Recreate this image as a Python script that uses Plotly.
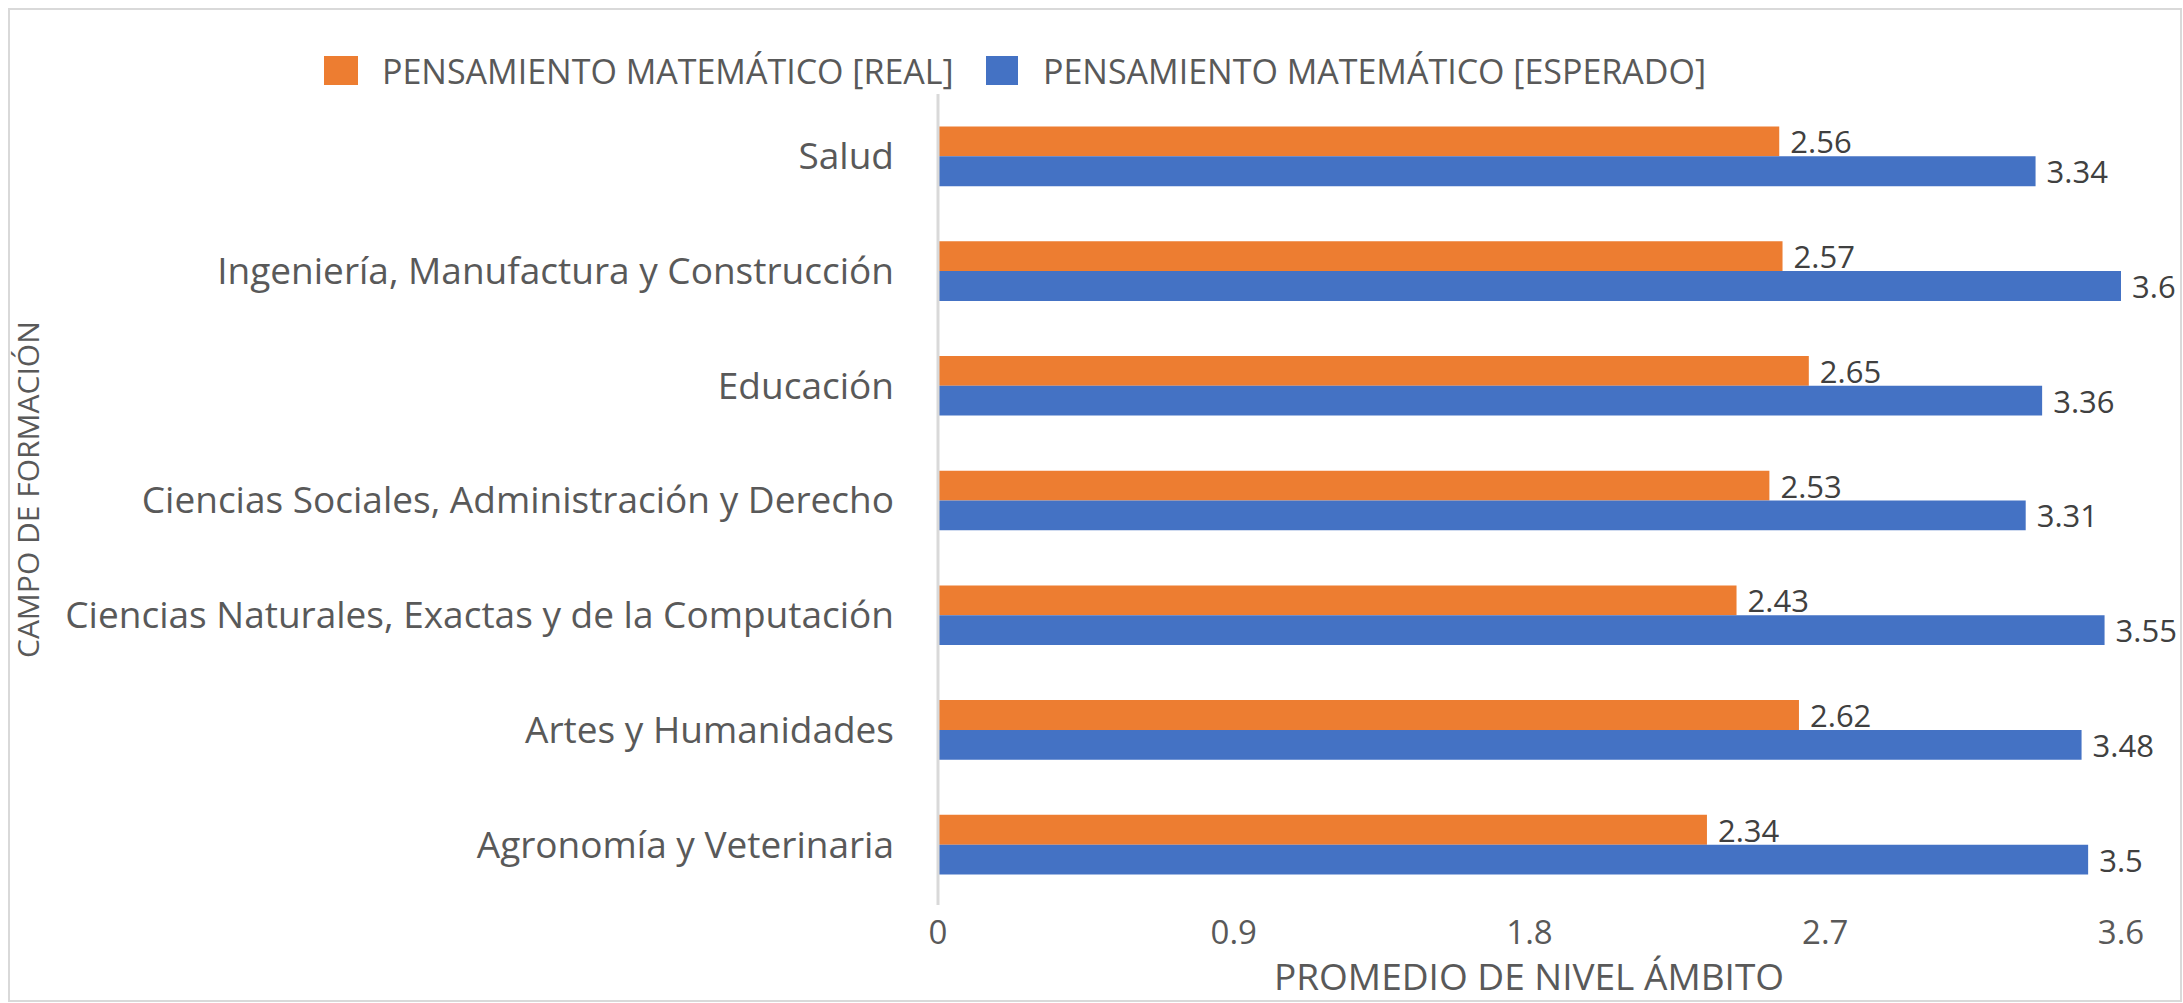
import plotly.graph_objects as go

categorias = [
    "Salud",
    "Ingeniería, Manufactura y Construcción",
    "Educación",
    "Ciencias Sociales, Administración y Derecho",
    "Ciencias Naturales, Exactas y de la Computación",
    "Artes y Humanidades",
    "Agronomía y Veterinaria",
]
real = [2.56, 2.57, 2.65, 2.53, 2.43, 2.62, 2.34]
esperado = [3.34, 3.6, 3.36, 3.31, 3.55, 3.48, 3.5]
x_ticks = [0, 0.9, 1.8, 2.7, 3.6]
x_tick_text = ["0", "0.9", "1.8", "2.7", "3.6"]
series_names = ["PENSAMIENTO MATEMÁTICO [REAL]", "PENSAMIENTO MATEMÁTICO [ESPERADO]"]
series_colors = ["#ED7D31", "#4472C4"]

W, H = 2183, 1003
L, R, T, B = 938, 62, 99, 101
pw = W - L - R
ph = H - T - B
FONT = "Open Sans"
GRAY = "#595959"


def px_x(px):
    return (px - L) / pw


def px_y(py):
    return (T + ph - py) / ph


fig = go.Figure()
for name, vals, col in zip(series_names, [real, esperado], series_colors):
    fig.add_trace(go.Bar(
        y=categorias, x=vals, orientation="h", name=name,
        marker=dict(color=col, line=dict(width=0)),
        text=[f" {v:g}" for v in vals], textposition="outside", cliponaxis=False,
        constraintext="none",
        textfont=dict(family=FONT, size=31, color="#404040"),
        showlegend=False,
    ))

# chart border
fig.add_shape(type="rect", xref="paper", yref="paper",
              x0=px_x(9), x1=px_x(W - 2), y0=px_y(H - 2), y1=px_y(9),
              line=dict(color="#d9d9d9", width=2), fillcolor="rgba(0,0,0,0)", layer="below")

# category axis line (slightly taller than the plot area, as in the reference)
fig.add_shape(type="line", xref="paper", yref="paper",
              x0=0, x1=0, y0=px_y(905), y1=px_y(94),
              line=dict(color="#d9d9d9", width=3))

# custom legend
legend_sq = [(324, 358), (986, 1018)]
legend_txt_x = [380, 1041]
for (x0, x1), tx, name, col in zip(legend_sq, legend_txt_x, series_names, series_colors):
    fig.add_shape(type="rect", xref="paper", yref="paper",
                  x0=px_x(x0), x1=px_x(x1), y0=px_y(85), y1=px_y(56),
                  line=dict(width=0), fillcolor=col)
    fig.add_annotation(xref="paper", yref="paper", x=px_x(tx), y=px_y(71),
                       xanchor="left", yanchor="middle", showarrow=False,
                       text=name, font=dict(family=FONT, size=34, color=GRAY))

# axis titles
fig.add_annotation(xref="paper", yref="paper", x=px_x(1529), y=px_y(976),
                   xanchor="center", yanchor="middle", showarrow=False,
                   text="PROMEDIO DE NIVEL ÁMBITO", font=dict(family=FONT, size=37, color=GRAY))
fig.add_annotation(xref="paper", yref="paper", x=px_x(28), y=px_y(490),
                   xanchor="center", yanchor="middle", showarrow=False, textangle=-90,
                   text="CAMPO DE FORMACIÓN", font=dict(family=FONT, size=30, color=GRAY))

fig.update_layout(
    width=W, height=H,
    margin=dict(l=L, r=R, t=T, b=B, autoexpand=False),
    paper_bgcolor="white", plot_bgcolor="white",
    barmode="group", bargap=0.48, bargroupgap=0.0,
    font=dict(family=FONT, color=GRAY, size=30),
    showlegend=False,
    xaxis=dict(range=[0, 3.6], tickvals=x_ticks, ticktext=x_tick_text,
               showgrid=False, zeroline=False, showline=False, ticks="",
               automargin=False, ticklabelstandoff=8,
               tickfont=dict(family=FONT, size=33, color=GRAY)),
    yaxis=dict(autorange="reversed", showgrid=False, zeroline=False,
               showline=False, ticks="",
               automargin=False, ticklabelstandoff=43,
               tickfont=dict(family=FONT, size=37, color=GRAY)),
)

fig.write_html("out.html", config={"displayModeBar": False},
               post_script="document.body.style.margin='0';document.body.style.overflow='hidden';")
